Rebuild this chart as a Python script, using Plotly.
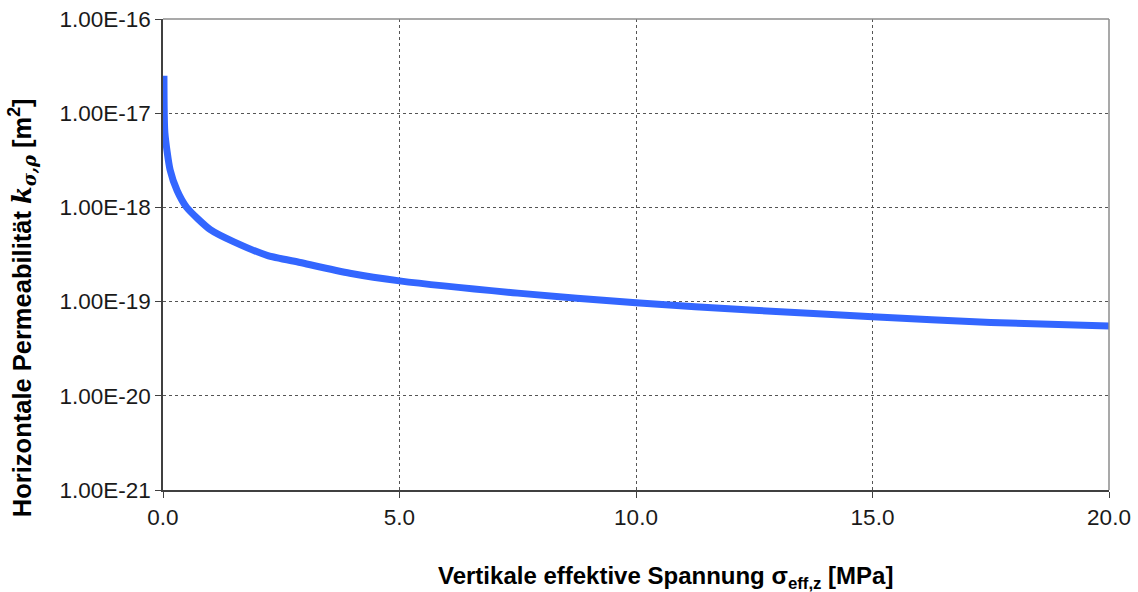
import plotly.graph_objects as go

# Data
stress_mpa = [0.02, 0.04, 0.15, 0.3, 0.5, 1.0, 1.5, 2.2, 2.9, 3.95, 5.0, 7.5, 10.0, 12.5, 15.0, 17.5, 20.0]
permeability_m2 = [2.5e-17, 6.2e-18, 2.5e-18, 1.5e-18, 1.0e-18, 5.8e-19, 4.3e-19, 3.1e-19, 2.6e-19,
                   2.0e-19, 1.66e-19, 1.23e-19, 9.7e-20, 8.1e-20, 6.9e-20, 6.0e-20, 5.5e-20]

y_tick_values = [1e-21, 1e-20, 1e-19, 1e-18, 1e-17, 1e-16]
y_tick_labels = ["1.00E-21", "1.00E-20", "1.00E-19", "1.00E-18", "1.00E-17", "1.00E-16"]
x_tick_values = [0, 5, 10, 15, 20]
x_tick_labels = ["0.0", "5.0", "10.0", "15.0", "20.0"]

x_title = "<b>Vertikale effektive Spannung σ<sub>eff,z</sub> [MPa]</b>"
y_title = ("<b>Horizontale Permeabilität "
           "<span style='font-family:DejaVu Serif'><i>k</i><sub><i>σ,ρ</i></sub></span>"
           " [m<sup>2</sup>]</b>")

fig = go.Figure()
fig.add_trace(go.Scatter(
    x=stress_mpa, y=permeability_m2, mode="lines",
    line=dict(color="#3366FF", width=7, shape="spline", smoothing=0.6),
    showlegend=False,
))

font = "Liberation Sans, Arial, sans-serif"
tick_size = 22.5

fig.update_layout(
    width=1138, height=592,
    margin=dict(l=163, r=29, t=19, b=102),
    paper_bgcolor="white", plot_bgcolor="white",
    font=dict(family=font, size=tick_size, color="#000000"),
    xaxis=dict(
        range=[0, 20], tickvals=x_tick_values, ticktext=x_tick_labels,
        showgrid=True, gridcolor="#555555", griddash="dot", gridwidth=1,
        showline=True, linecolor="#404040", linewidth=1.5,
        ticks="outside", ticklen=6, tickcolor="#404040",
        zeroline=False, automargin=False,
        tickfont=dict(size=tick_size, color="#1a1a1a"),
    ),
    yaxis=dict(
        type="log", range=[-21, -16], tickvals=y_tick_values, ticktext=y_tick_labels,
        showgrid=True, gridcolor="#555555", griddash="dot", gridwidth=1,
        showline=True, linecolor="#404040", linewidth=1.5,
        ticks="outside", ticklen=6, tickcolor="#404040",
        zeroline=False, automargin=False,
        tickfont=dict(size=tick_size, color="#1a1a1a"),
    ),
    shapes=[
        dict(type="line", xref="paper", yref="paper", x0=0, x1=1, y0=1, y1=1,
             line=dict(color="#8c8c8c", width=1.5)),
        dict(type="line", xref="paper", yref="paper", x0=1, x1=1, y0=0, y1=1,
             line=dict(color="#8c8c8c", width=1.5)),
    ],
    annotations=[
        dict(text=x_title, xref="paper", yref="paper", x=0.531, y=0,
             xanchor="center", yanchor="middle", yshift=-87, showarrow=False,
             font=dict(size=24, family=font, color="#000000")),
        dict(text=y_title, xref="paper", yref="paper", x=0, y=0.386,
             xanchor="center", yanchor="middle", xshift=-141, textangle=-90, showarrow=False,
             font=dict(size=25.5, family=font, color="#000000")),
    ],
)

fig.write_html("out.html", config={"displayModeBar": False},
               post_script="document.body.style.margin='0';")
